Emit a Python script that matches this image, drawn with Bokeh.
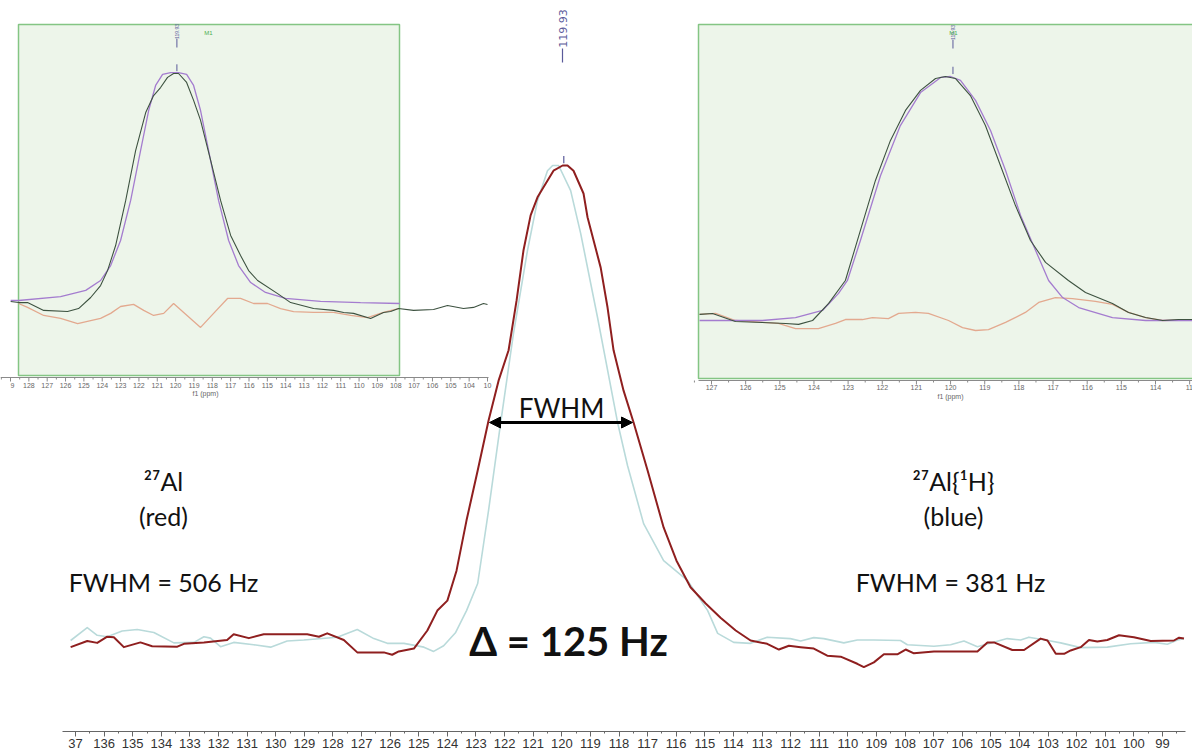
import math
from bokeh.plotting import figure
from bokeh.models import (Range1d, SingleIntervalTicker, Arrow, NormalHead)
from bokeh.embed import file_html
from bokeh.resources import INLINE
from bokeh.core.properties import value

# ---------------- main spectrum (ppm, normalised intensity) ----------------
red_ppm = [137.17,136.59,136.24,135.89,135.66,135.31,134.73,134.32,133.44,133.21,
           132.51,131.70,131.47,130.94,130.42,128.90,128.49,128.20,127.62,127.15,
           126.22,125.93,125.70,125.17,124.70,124.35,124.00,123.68,123.33,122.94,
           122.56,122.21,121.86,121.58,121.34,121.09,120.85,120.64,120.29,119.97,
           119.80,119.59,119.24,119.10,118.64,118.40,118.19,117.84,117.49,117.00,
           116.44,115.99,115.50,114.97,114.45,113.92,113.40,112.82,112.41,112.06,
           111.65,111.19,110.72,110.25,109.67,109.44,109.09,108.74,108.27,107.98,
           107.69,106.99,106.29,105.47,105.12,104.89,104.25,103.84,103.26,103.02,
           102.73,102.44,102.21,101.86,101.57,101.28,100.93,100.52,100.00,99.41,
           98.60,98.42,98.25]
red_int = [-0.014,-0.001,-0.005,0.008,0.007,-0.014,-0.004,-0.012,-0.013,-0.007,
           -0.004,0.001,0.013,0.005,0.013,0.013,0.008,0.015,0.001,-0.025,
           -0.025,-0.030,-0.023,-0.017,0.021,0.063,0.084,0.147,0.253,0.358,
           0.463,0.547,0.611,0.716,0.821,0.895,0.933,0.954,0.989,1.000,
           1.000,0.989,0.941,0.891,0.785,0.701,0.611,0.526,0.459,0.358,
           0.238,0.168,0.112,0.078,0.048,0.021,0.000,-0.007,-0.019,-0.011,
           -0.014,-0.017,-0.032,-0.034,-0.049,-0.056,-0.046,-0.029,-0.029,-0.019,
           -0.027,-0.023,-0.023,-0.023,-0.004,-0.004,-0.020,-0.020,0.004,0.000,
           -0.028,-0.028,-0.021,-0.014,0.001,-0.002,0.001,0.011,0.007,-0.001,
           0.000,0.006,0.004]

blue_ppm = [137.17,136.59,136.24,135.89,135.37,134.84,134.26,133.56,132.86,132.51,
            132.28,131.93,131.47,130.77,130.18,129.60,129.02,127.85,127.15,126.57,
            126.10,125.52,124.82,124.48,124.13,123.71,123.33,122.94,122.56,122.14,
            121.69,121.20,120.85,120.50,120.32,120.11,119.69,119.34,118.75,118.05,
            117.70,117.14,116.44,115.60,114.90,114.55,113.99,113.40,112.82,112.01,
            111.65,111.19,110.84,110.14,109.67,109.09,108.16,107.92,106.99,106.41,
            105.94,105.47,104.43,103.96,103.67,102.91,102.56,101.86,100.93,100.11,
            99.30,98.83,98.48,98.25]
blue_int = [0.000,0.027,0.011,0.008,0.020,0.023,0.017,-0.005,-0.004,0.008,
            0.005,-0.013,-0.004,-0.009,-0.014,-0.001,0.001,0.007,0.023,0.004,
            -0.006,-0.006,-0.014,-0.023,-0.011,0.017,0.063,0.120,0.274,0.457,
            0.646,0.821,0.926,0.989,1.000,1.000,0.947,0.857,0.680,0.459,
            0.368,0.246,0.168,0.126,0.063,0.015,-0.004,-0.006,0.007,0.004,
            -0.001,0.006,0.004,-0.005,0.001,0.001,0.000,-0.009,-0.012,-0.009,
            -0.001,-0.013,0.004,0.001,0.007,-0.001,-0.005,-0.015,-0.014,-0.007,
            -0.004,-0.008,0.001,0.004]

main_ticks = list(range(99, 138))
main_tick_labels = {137: "37"}          # left label is cropped in the source
peak_label = "119.93"
peak_ppm = 119.93

# ---------------- left inset (27Al) ----------------
l_dat_ppm = [128.99,128.56,128.07,127.19,125.89,125.29,124.63,124.09,123.71,123.27,
             122.72,122.18,121.63,121.20,120.82,120.44,120.11,119.84,119.40,119.02,
             118.64,118.09,117.55,117.00,116.46,116.02,115.53,114.44,113.73,112.48,
             111.39,110.84,110.30,109.37,108.67,108.28,107.85,107.03,105.94,105.18,
             104.31,103.76,103.22,103.00]
l_dat_int = [0.009,0.004,0.004,-0.030,-0.035,-0.022,0.026,0.078,0.143,0.252,
             0.448,0.665,0.830,0.904,0.939,0.983,1.000,1.000,0.961,0.883,
             0.796,0.622,0.448,0.296,0.209,0.143,0.100,0.043,0.004,-0.022,
             -0.030,-0.039,-0.043,-0.065,-0.039,-0.035,-0.022,-0.030,-0.026,-0.009,
             -0.022,-0.017,0.000,-0.004]
l_fit_ppm = [128.99,128.56,126.27,124.90,124.09,123.54,123.00,122.45,121.91,121.47,
             121.09,120.71,120.27,119.84,119.40,119.02,118.64,118.20,117.66,117.11,
             116.57,115.91,115.10,114.01,112.10,109.92,107.79]
l_fit_int = [0.013,0.013,0.030,0.057,0.100,0.165,0.274,0.448,0.665,0.839,
             0.948,0.996,1.004,1.004,0.996,0.948,0.839,0.665,0.448,0.274,
             0.165,0.091,0.048,0.022,0.009,0.004,0.000]
l_res_ppm = [128.56,128.07,127.19,126.27,125.34,124.63,124.09,123.54,123.00,122.29,
             121.74,121.20,120.65,120.11,119.56,118.64,117.93,117.17,116.46,115.75,
             114.99,114.28,113.57,112.48,111.39,110.46,109.54,108.67,107.85]
l_res_int = [0.000,-0.017,-0.052,-0.065,-0.087,-0.074,-0.065,-0.043,-0.013,-0.004,
             -0.030,-0.052,-0.043,0.000,-0.039,-0.104,-0.043,0.022,0.022,0.000,
             0.000,-0.022,-0.035,-0.039,-0.039,-0.052,-0.061,-0.039,-0.022]
l_ticks = list(range(103, 130))
l_tick_labels = {129: "9", 103: "10"}   # cropped labels at the inset edges

# ---------------- right inset (27Al{1H}) ----------------
r_dat_ppm = [127.35,126.97,126.30,125.51,124.83,124.45,124.04,123.57,123.08,122.64,
             122.20,121.76,121.32,120.88,120.44,120.15,119.86,119.42,118.98,118.54,
             118.10,117.66,117.22,116.55,116.05,115.26,114.79,114.29,113.79,113.33,
             112.92]
r_dat_int = [0.025,0.029,-0.004,-0.008,-0.012,-0.016,0.000,0.070,0.164,0.369,
             0.574,0.738,0.861,0.943,0.992,1.000,0.992,0.922,0.799,0.635,
             0.471,0.328,0.238,0.164,0.115,0.070,0.033,0.012,0.000,0.004,
             0.004]
r_fit_ppm = [127.35,125.51,124.54,123.75,123.28,123.02,122.64,122.05,121.47,120.88,
             120.29,120.00,119.71,119.27,118.83,118.39,117.95,117.51,117.13,116.72,
             116.25,115.26,114.29,112.92]
r_fit_int = [0.000,0.000,0.012,0.041,0.111,0.164,0.328,0.594,0.799,0.934,
             0.996,1.000,0.984,0.902,0.779,0.615,0.430,0.287,0.164,0.094,
             0.053,0.012,0.000,0.000]
r_res_ppm = [127.35,126.88,126.30,125.04,124.54,123.87,123.37,123.08,122.58,122.29,
             121.82,121.52,121.03,120.65,120.06,119.65,119.27,118.89,118.39,117.81,
             117.42,116.93,116.43,115.76,115.26,114.79,114.29,113.79,112.92]
r_res_int = [0.025,0.029,0.000,-0.012,-0.033,-0.033,-0.012,0.004,0.004,0.012,
             0.008,0.029,0.033,0.029,0.000,-0.029,-0.041,-0.037,-0.008,0.033,
             0.074,0.094,0.090,0.078,0.066,0.033,0.012,0.000,0.004]
r_ticks = list(range(113, 128))
r_tick_labels = {113: "11"}             # cropped label at the right edge

# ---------------- layout helpers ----------------
W, FH = 1192, 731


def lin_range(p1, v1, p2, v2, p_lo, p_hi):
    k = (v2 - v1) / (p2 - p1)
    return Range1d(start=v1 + (p_lo - p1) * k, end=v1 + (p_hi - p1) * k)


p = figure(frame_width=W, frame_height=FH, output_backend="svg", toolbar_location=None,
           x_range=lin_range(75, 137, 1162, 99, 0, W),
           y_range=lin_range(640, 0.0, 165, 1.0, FH, 0),
           y_axis_location=None, min_border=0, outline_line_color=None,
           background_fill_color="white", border_fill_color="white")
p.grid.visible = False

p.extra_x_ranges = {
    "scr": Range1d(0, W),
    "lx": lin_range(10, 129, 487, 103, 0, W),
    "rx": lin_range(711, 127, 1155, 114, 0, W),
}
p.extra_y_ranges = {
    "scr": Range1d(FH, 0),
    "ly": lin_range(303, 0.0, 73, 1.0, FH, 0),
    "ry": lin_range(320, 0.0, 76, 1.0, FH, 0),
}

# main axis
ax = p.xaxis[0]
ax.ticker = SingleIntervalTicker(interval=1, num_minor_ticks=2)
ax.bounds = (98.2, 137.45)
ax.major_label_overrides = main_tick_labels
ax.axis_line_color = "#666666"
ax.major_tick_line_color = "#666666"
ax.minor_tick_line_color = "#666666"
ax.major_tick_out = 5
ax.major_tick_in = 0
ax.minor_tick_out = 2
ax.minor_tick_in = 0
ax.major_label_standoff = 2
ax.major_label_text_font = "Liberation Sans"
ax.major_label_text_font_size = "13px"
ax.major_label_text_color = "#333333"

# ---------------- insets: boxes ----------------
INSET_FILL = "#edf5ea"
INSET_LINE = "#84c584"
p.quad(left=[18], right=[399], top=[24], bottom=[375], x_range_name="scr", y_range_name="scr",
       fill_color=INSET_FILL, line_color=INSET_LINE, line_width=1.5)
p.quad(left=[698], right=[1200], top=[24], bottom=[378], x_range_name="scr", y_range_name="scr",
       fill_color=INSET_FILL, line_color=INSET_LINE, line_width=1.5)

# inset curves
DATA_C, FIT_C, RES_C = "#3d5240", "#a47ccf", "#e3a98f"
p.line(l_res_ppm, l_res_int, x_range_name="lx", y_range_name="ly", line_color=RES_C, line_width=1.3)
p.line(l_fit_ppm, l_fit_int, x_range_name="lx", y_range_name="ly", line_color=FIT_C, line_width=1.3)
p.line(l_dat_ppm, l_dat_int, x_range_name="lx", y_range_name="ly", line_color=DATA_C, line_width=1.1)
p.line(r_res_ppm, r_res_int, x_range_name="rx", y_range_name="ry", line_color=RES_C, line_width=1.3)
p.line(r_fit_ppm, r_fit_int, x_range_name="rx", y_range_name="ry", line_color=FIT_C, line_width=1.3)
p.line(r_dat_ppm, r_dat_int, x_range_name="rx", y_range_name="ry", line_color=DATA_C, line_width=1.1)


def inset_axis(ticks, overrides, xr, y_line, x0, x1, lab_y, title_x, title_y):
    p.segment(x0=[x0], x1=[x1], y0=[y_line], y1=[y_line], x_range_name="scr", y_range_name="scr",
              line_color="#8a8a8a", line_width=1)
    p.segment(x0=ticks, x1=ticks, y0=[y_line] * len(ticks), y1=[y_line + 4] * len(ticks),
              x_range_name=xr, y_range_name="scr", line_color="#8a8a8a", line_width=1)
    halves = [t + 0.5 for t in ticks]
    p.segment(x0=halves, x1=halves, y0=[y_line] * len(halves), y1=[y_line + 2] * len(halves),
              x_range_name=xr, y_range_name="scr", line_color="#8a8a8a", line_width=1)
    full = [t for t in ticks if t not in overrides]
    p.text(x=full, y=[lab_y] * len(full), text=[str(t) for t in full], x_range_name=xr,
           y_range_name="scr", text_font=value("Liberation Sans"), text_font_size=value("7px"),
           text_color="#666666", text_align="center", text_baseline="middle")
    for t, s in overrides.items():
        # cropped labels: keep only the visible digits, anchored toward the inside
        align = "right" if t == max(ticks) else "left"
        p.text(x=[t], y=[lab_y], text=[s], x_range_name=xr, y_range_name="scr",
               text_font=value("Liberation Sans"), text_font_size=value("7px"),
               text_color="#666666", text_align=align, text_baseline="middle",
               x_offset=(4 if align == "right" else -4))
    p.text(x=[title_x], y=[title_y], text=["f1 (ppm)"], x_range_name="scr", y_range_name="scr",
           text_font=value("Liberation Sans"), text_font_size=value("7px"), text_color="#666666",
           text_align="center", text_baseline="middle")


inset_axis(l_ticks, l_tick_labels, "lx", 377, 0, 488, 385, 205, 393)
inset_axis(r_ticks, r_tick_labels, "rx", 380, 698, W, 387, 950, 396)

# inset peak markers
PK_C = "#5a5a9a"
for xr, yr, top_y in (("lx", "ly", 24), ("rx", "ry", 25)):
    p.segment(x0=[peak_ppm], x1=[peak_ppm], y0=[1.01], y1=[1.04], x_range_name=xr, y_range_name=yr,
              line_color=PK_C, line_width=1)
    p.text(x=[peak_ppm], y=[top_y + 7], text=[peak_label], x_range_name=xr, y_range_name="scr",
           angle=math.pi / 2, text_font=value("Liberation Sans"), text_font_size=value("5px"),
           text_color=PK_C, text_align="center", text_baseline="middle")
    p.segment(x0=[peak_ppm], x1=[peak_ppm], y0=[top_y + 14], y1=[top_y + 23], x_range_name=xr,
              y_range_name="scr", line_color=PK_C, line_width=1)
p.text(x=[208], y=[32], text=["M1"], x_range_name="scr", y_range_name="scr",
       text_font=value("Liberation Sans"), text_font_size=value("6px"), text_color="#4caf50",
       text_align="center", text_baseline="middle")
p.text(x=[953], y=[32], text=["M1"], x_range_name="scr", y_range_name="scr",
       text_font=value("Liberation Sans"), text_font_size=value("6px"), text_color="#4caf50",
       text_align="center", text_baseline="middle")

# ---------------- main curves ----------------
p.line(blue_ppm, blue_int, line_color="#b9dada", line_width=1.6, line_join="round")
p.line(red_ppm, red_int, line_color="#8f1f1f", line_width=2.0, line_join="round")

# main peak marker
p.segment(x0=[peak_ppm], x1=[peak_ppm], y0=[1.005], y1=[1.02], line_color=PK_C, line_width=1.2)
p.text(x=[562], y=[28], text=[peak_label], x_range_name="scr", y_range_name="scr",
       angle=math.pi / 2, text_font=value("DejaVu Sans"), text_font_size=value("11px"),
       text_color=PK_C, text_align="center", text_baseline="middle")
p.segment(x0=[562], x1=[562], y0=[48], y1=[62], x_range_name="scr", y_range_name="scr",
          line_color=PK_C, line_width=1.2)

# ---------------- annotations ----------------
FONT = value("Lato")
def label(x, y, txt, size, bold=False):
    p.text(x=[x], y=[y], text=[txt], x_range_name="scr", y_range_name="scr", text_font=FONT,
           text_font_size=value(size), text_color="#111111", text_align="center",
           text_baseline="middle", text_font_style="bold" if bold else "normal")

label(163, 480, "²⁷Al", "25px")
label(163, 515, "(red)", "25px")
label(163, 581, "FWHM = 506 Hz", "25px")
label(953, 480, "²⁷Al{¹H}", "25px")
label(953, 515, "(blue)", "25px")
label(950, 581, "FWHM = 381 Hz", "25px")
label(561, 407, "FWHM", "26px")
label(568, 640, "Δ = 125 Hz", "40px", bold=True)

p.add_layout(Arrow(x_start=489, y_start=422, x_end=632, y_end=422, x_range_name="scr",
                   y_range_name="scr", line_width=3, line_color="black",
                   start=NormalHead(size=11, fill_color="black", line_color="black"),
                   end=NormalHead(size=11, fill_color="black", line_color="black")))

open("out.html", "w").write(file_html(p, INLINE))
